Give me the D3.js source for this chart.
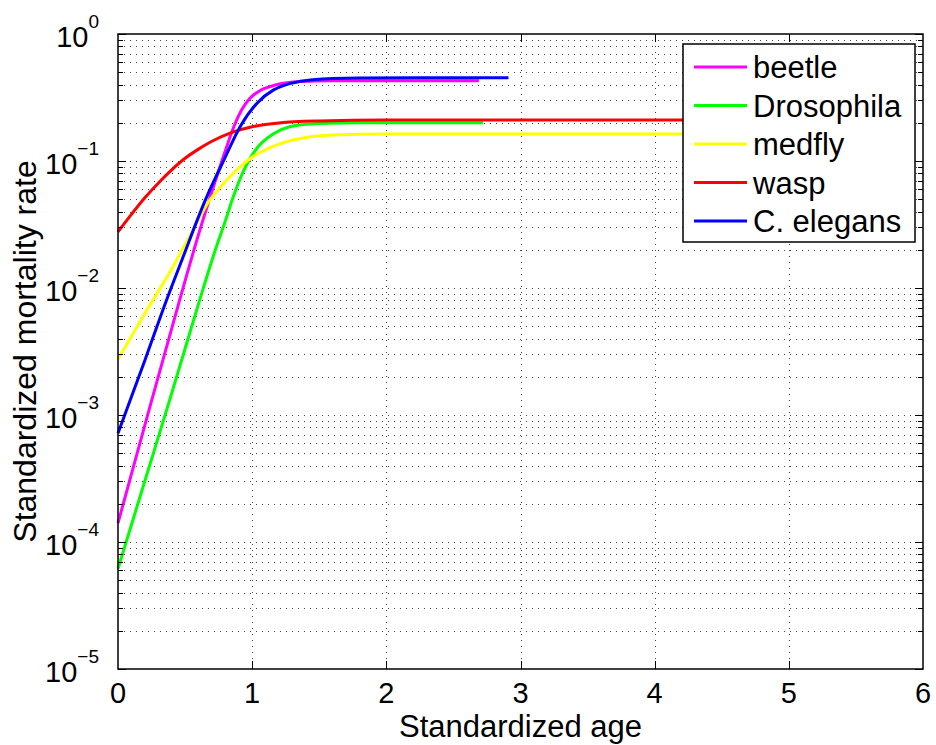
<!DOCTYPE html>
<html>
<head>
<meta charset="utf-8">
<script src="https://cdn.jsdelivr.net/npm/d3@7"></script>
<style>
  body { margin: 0; background: #fff; }
  text { font-family: "Liberation Sans", Arial, sans-serif; fill: #000; }
</style>
</head>
<body>
<div id="chart"></div>
<script>
// values
const seriesNames = ['beetle', 'Drosophila', 'medfly', 'wasp', 'C. elegans'];
const seriesColors = ['#ff00ff', '#00ff00', '#ffff00', '#ff0000', '#0000ff'];

const beetleAge  = [0, 0.25, 0.45, 0.6, 0.7, 0.79, 0.86, 0.92, 0.98, 1.06, 1.18, 1.36, 1.6, 2.0, 2.69];
const beetleRate = [1.41e-4, 1.29e-3, 7.41e-3, 0.0263, 0.0575, 0.112, 0.182, 0.251, 0.309, 0.359, 0.398, 0.422, 0.428, 0.429, 0.429];

const drosoAge  = [0, 0.2, 0.4, 0.61, 0.71, 0.81, 0.85, 0.935, 1.035, 1.16, 1.28, 1.49, 1.8, 2.72];
const drosoRate = [6.17e-5, 3.02e-4, 1.48e-3, 8.13e-3, 0.0178, 0.0363, 0.0490, 0.0832, 0.126, 0.164, 0.186, 0.197, 0.200, 0.200];

const medflyAge  = [0, 0.2, 0.4, 0.55, 0.67, 0.81, 1.0, 1.2, 1.4, 1.6, 2.0, 3.0, 5.5];
const medflyRate = [2.75e-3, 6.31e-3, 0.0141, 0.0275, 0.0468, 0.0708, 0.107, 0.136, 0.153, 0.160, 0.163, 0.163, 0.163];

const waspAge  = [0, 0.1, 0.2, 0.3, 0.4, 0.5, 0.6, 0.7, 0.85, 1.0, 1.2, 1.5, 2.0, 5.5];
const waspRate = [0.0277, 0.0380, 0.0513, 0.0668, 0.0851, 0.105, 0.124, 0.143, 0.168, 0.186, 0.1995, 0.2065, 0.210, 0.210];

const elegansAge  = [0, 0.2, 0.36, 0.48, 0.65, 0.79, 0.91, 1.04, 1.16, 1.28, 1.45, 1.8, 2.2, 2.91];
const elegansRate = [7.18e-4, 2.69e-3, 7.94e-3, 0.0170, 0.0490, 0.102, 0.186, 0.288, 0.363, 0.407, 0.437, 0.450, 0.453, 0.453];

const xTicks = [0, 1, 2, 3, 4, 5, 6];
const yExponents = [0, -1, -2, -3, -4, -5];

const series = [
  [beetleAge, beetleRate],
  [drosoAge, drosoRate],
  [medflyAge, medflyRate],
  [waspAge, waspRate],
  [elegansAge, elegansRate]
].map(([ages, rates], i) => ({
  name: seriesNames[i],
  color: seriesColors[i],
  points: ages.map((a, j) => [a, rates[j]])
}));

const width = 936, height = 745;
const margin = {top: 34, right: 13, bottom: 76, left: 118};
const plotW = width - margin.left - margin.right;
const plotH = height - margin.top - margin.bottom;

const svg = d3.select('#chart')
  .append('svg')
  .attr('width', width)
  .attr('height', height);

const x = d3.scaleLinear().domain([0, 6]).range([0, plotW]);
const y = d3.scaleLog().domain([1e-5, 1]).range([plotH, 0]);

const g = svg.append('g')
  .attr('transform', `translate(${margin.left},${margin.top})`);

// minor + major log values
const minorVals = [];
for (let e = -5; e < 0; e++) {
  for (let k = 2; k <= 9; k++) minorVals.push(k * Math.pow(10, e));
}
const majorVals = yExponents.map(e => Math.pow(10, e));

// grid
const grid = g.append('g')
  .attr('stroke', '#444')
  .attr('stroke-width', 1)
  .attr('stroke-dasharray', '1,5');

grid.selectAll('.hg')
  .data(majorVals.concat(minorVals).filter(v => v > 1e-5 && v < 1))
  .enter()
  .append('line')
  .attr('x1', 0).attr('x2', plotW)
  .attr('y1', d => Math.round(y(d)) + 0.5)
  .attr('y2', d => Math.round(y(d)) + 0.5);

grid.selectAll('.vg')
  .data(xTicks.filter(t => t > 0 && t < 6))
  .enter()
  .append('line')
  .attr('y1', 0).attr('y2', plotH)
  .attr('x1', d => Math.round(x(d)) + 0.5)
  .attr('x2', d => Math.round(x(d)) + 0.5);

// curves
const line = d3.line()
  .x(d => x(d[0]))
  .y(d => y(d[1]))
  .curve(d3.curveMonotoneX);

g.selectAll('.curve')
  .data(series)
  .enter()
  .append('path')
  .attr('fill', 'none')
  .attr('stroke', d => d.color)
  .attr('stroke-width', 3)
  .attr('d', d => line(d.points));

// axes box with inward ticks
const ticks = g.append('g').attr('stroke', '#000').attr('stroke-width', 1);

xTicks.filter(t => t > 0 && t < 6).forEach(t => {
  const px = Math.round(x(t)) + 0.5;
  ticks.append('line').attr('x1', px).attr('x2', px).attr('y1', plotH).attr('y2', plotH - 8);
  ticks.append('line').attr('x1', px).attr('x2', px).attr('y1', 0).attr('y2', 8);
});
majorVals.forEach(v => {
  const py = Math.round(y(v)) + 0.5;
  ticks.append('line').attr('x1', 0).attr('x2', 8).attr('y1', py).attr('y2', py);
  ticks.append('line').attr('x1', plotW).attr('x2', plotW - 8).attr('y1', py).attr('y2', py);
});
minorVals.forEach(v => {
  const py = Math.round(y(v)) + 0.5;
  ticks.append('line').attr('x1', 0).attr('x2', 5).attr('y1', py).attr('y2', py);
  ticks.append('line').attr('x1', plotW).attr('x2', plotW - 5).attr('y1', py).attr('y2', py);
});

g.append('rect')
  .attr('x', 0).attr('y', 0)
  .attr('width', plotW).attr('height', plotH)
  .attr('fill', 'none')
  .attr('stroke', '#000')
  .attr('stroke-width', 1.5);

// tick labels
g.selectAll('.xl')
  .data(xTicks)
  .enter()
  .append('text')
  .attr('x', d => x(d))
  .attr('y', plotH + 34)
  .attr('text-anchor', 'middle')
  .style('font-size', '29px')
  .text(d => d);

const yl = g.selectAll('.yl')
  .data(yExponents)
  .enter()
  .append('text')
  .attr('x', -19)
  .attr('y', d => y(Math.pow(10, d)) + 13)
  .attr('text-anchor', 'end')
  .style('font-size', '29px');
yl.append('tspan').text('10');
yl.append('tspan')
  .attr('dy', -19)
  .style('font-size', '19px')
  .text(d => d < 0 ? '\u2212' + (-d) : d);

// axis labels
svg.append('text')
  .attr('x', margin.left + plotW / 2)
  .attr('y', 737)
  .attr('text-anchor', 'middle')
  .style('font-size', '31px')
  .text('Standardized age');

svg.append('text')
  .attr('transform', `translate(36,${margin.top + plotH / 2}) rotate(-90)`)
  .attr('text-anchor', 'middle')
  .style('font-size', '32px')
  .text('Standardized mortality rate');

// legend
const legend = svg.append('g').attr('transform', 'translate(683,44)');
legend.append('rect')
  .attr('width', 232).attr('height', 198)
  .attr('fill', '#fff')
  .attr('stroke', '#000')
  .attr('stroke-width', 1.5);

const item = legend.selectAll('.item')
  .data(series)
  .enter()
  .append('g')
  .attr('transform', (d, i) => `translate(0,${23 + i * 38.5})`);
item.append('line')
  .attr('x1', 11).attr('x2', 64)
  .attr('stroke', d => d.color)
  .attr('stroke-width', 3);
item.append('text')
  .attr('x', 70)
  .attr('y', 11)
  .style('font-size', '31px')
  .text(d => d.name);
</script>
</body>
</html>
